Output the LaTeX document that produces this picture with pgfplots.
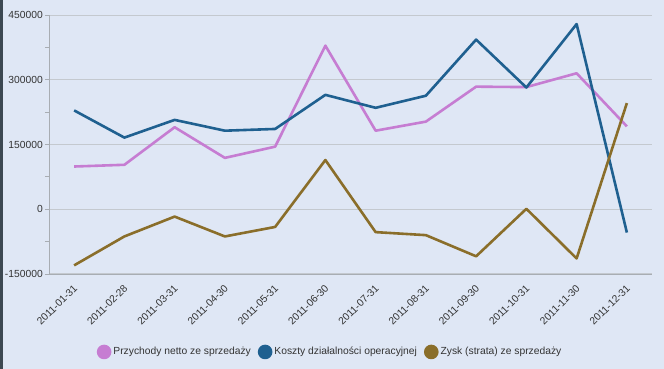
\documentclass[border=0pt]{standalone}
\usepackage{pgfplots}
\pgfplotsset{compat=1.18}
\usepackage{fontspec}
\setmainfont{Liberation Sans}
\definecolor{bg}{HTML}{DFE7F5}
\definecolor{edgec}{HTML}{3C4852}
\definecolor{gridc}{HTML}{C4C9CF}
\definecolor{axisc}{HTML}{A8ADB3}
\definecolor{txt}{HTML}{333333}
\definecolor{pinkc}{HTML}{C67DD2}
\definecolor{bluec}{HTML}{1F6090}
\definecolor{brownc}{HTML}{8A6E2A}
\begin{document}
\begin{tikzpicture}[x=1pt,y=1pt]
\fill[bg] (0,0) rectangle (664,369);
\fill[edgec] (0,0) rectangle (3,369);
\begin{axis}[
  at={(49pt,95pt)}, anchor=south west,
  scale only axis, width=603pt, height=259pt,
  xmin=-0.5, xmax=11.5, ymin=-150000, ymax=450000,
  axis lines*=left,
  axis line style={axisc, line width=0.8pt},
  scaled y ticks=false,
  ytick={-150000,0,150000,300000,450000},
  yticklabels={-150000,0,150000,300000,450000},
  minor y tick num=1,
  tick align=outside,
  major tick length=4pt, minor tick length=4pt,
  ytick style={axisc, line width=0.8pt},
  xtick={0,...,11},
  xticklabels={2011-01-31,2011-02-28,2011-03-31,2011-04-30,2011-05-31,2011-06-30,2011-07-31,2011-08-31,2011-09-30,2011-10-31,2011-11-30,2011-12-31},
  xtick style={draw=none},
  ymajorgrids, major grid style={gridc, line width=1pt},
  tick label style={font=\fontsize{10.3}{12}\selectfont, text=txt},
  xticklabel style={rotate=45, anchor=east, inner sep=1pt, yshift=-7pt, xshift=-4pt},
  yticklabel style={inner sep=2pt},
  legend columns=3,
  legend style={at={(0.079,-0.301)}, anchor=west, draw=none, fill=none, inner sep=0pt,
    font=\fontsize{10.3}{12}\selectfont, text=txt,
    /tikz/every even column/.append style={column sep=5pt}},
  legend image code/.code={\fill (6pt,0pt) circle (6pt);},
  every axis plot/.append style={line width=2.6pt, line join=round},
  clip=false,
]
\addplot[color=pinkc] coordinates {(0,99000)(1,103000)(2,190000)(3,119000)(4,145000)(5,379000)(6,182000)(7,203000)(8,284000)(9,283000)(10,315000)(11,192000)};
\addplot[color=bluec] coordinates {(0,229000)(1,166000)(2,207000)(3,182000)(4,186000)(5,265000)(6,235000)(7,263000)(8,393000)(9,282000)(10,429000)(11,-54000)};
\addplot[color=brownc] coordinates {(0,-130000)(1,-63000)(2,-17000)(3,-63000)(4,-41000)(5,114000)(6,-53000)(7,-60000)(8,-109000)(9,1000)(10,-114000)(11,246000)};
\legend{Przychody netto ze sprzedaży,Koszty działalności operacyjnej,Zysk (strata) ze sprzedaży}
\end{axis}
\pgfresetboundingbox
\useasboundingbox (0,0) rectangle (664,369);
\end{tikzpicture}
\end{document}
